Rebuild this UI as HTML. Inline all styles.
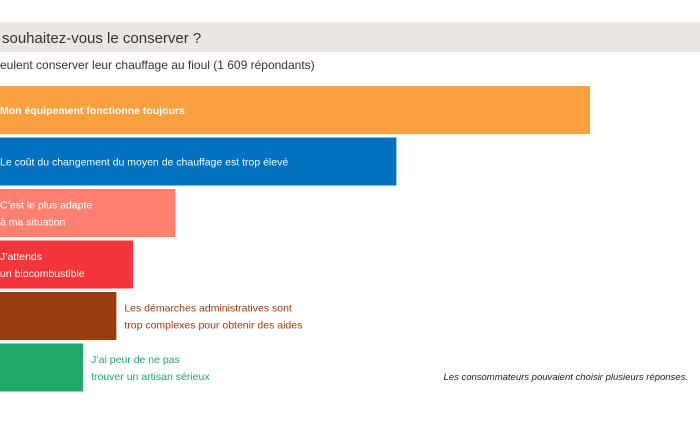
<!DOCTYPE html>
<html><head><meta charset="utf-8"><style>
html,body{margin:0;padding:0;background:#fff;width:700px;height:441px;overflow:hidden;font-family:"Liberation Sans",sans-serif}
</style></head><body>
<svg id="chart" width="700" height="441" xmlns="http://www.w3.org/2000/svg">
<rect x="0" y="22" width="700" height="30" fill="#ebe6e3"/>
<text x="2" y="43" font-size="15" fill="#333">souhaitez-vous le conserver ?</text>
<text x="0" y="69" font-size="12" fill="#333">eulent conserver leur chauffage au fioul (1 609 répondants)</text>
<text x="688" y="380" font-size="9.5" font-style="italic" fill="#222" text-anchor="end">Les consommateurs pouvaient choisir plusieurs réponses.</text>
<g id="bars"></g>
</svg>
<script>
const categories=[["Mon équipement fonctionne toujours"],["Le coût du changement du moyen de chauffage est trop élevé"],["C’est le plus adapté","à ma situation"],["J’attends","un biocombustible"],["Les démarches administratives sont","trop complexes pour obtenir des aides"],["J’ai peur de ne pas","trouver un artisan sérieux"]];
const values=[71,47.7,21.1,16,14,10];
const colors=["#f9a03f","#0070c0","#ff8070","#f2353a","#9b3c0f","#22a86b"];
const insideLabel=[true,true,true,true,false,false];
const xMax=71, plotW=590, top0=86, step=51.5, barH=48;
const x=v=>v/xMax*plotW;
const y=i=>top0+i*step;
const g=document.getElementById('bars');
const NS="http://www.w3.org/2000/svg";
values.forEach((v,i)=>{
  const r=document.createElementNS(NS,'rect');
  
  
  r.setAttribute('x',0);r.setAttribute('y',y(i));
  r.setAttribute('width',x(v));r.setAttribute('height',barH);
  r.setAttribute('fill',colors[i]);
  g.appendChild(r);
  const lines=categories[i];
  const t=document.createElementNS(NS,'text');
  
  
  const inside=insideLabel[i];
  const tx=inside?0:x(v)+8;
  t.setAttribute('font-size','10.5');
  t.setAttribute('fill',inside?'#fff':colors[i]);
  if(i===0)t.setAttribute('font-weight','bold');
  const cy=y(i)+barH/2;
  lines.forEach((ln,k)=>{
    const s=document.createElementNS(NS,'tspan');
    s.setAttribute('x',tx);
    s.setAttribute('y',cy+4+(k-(lines.length-1)/2)*17);
    s.textContent=ln;
    t.appendChild(s);
  });
  g.appendChild(t);
});
</script>
</body></html>
